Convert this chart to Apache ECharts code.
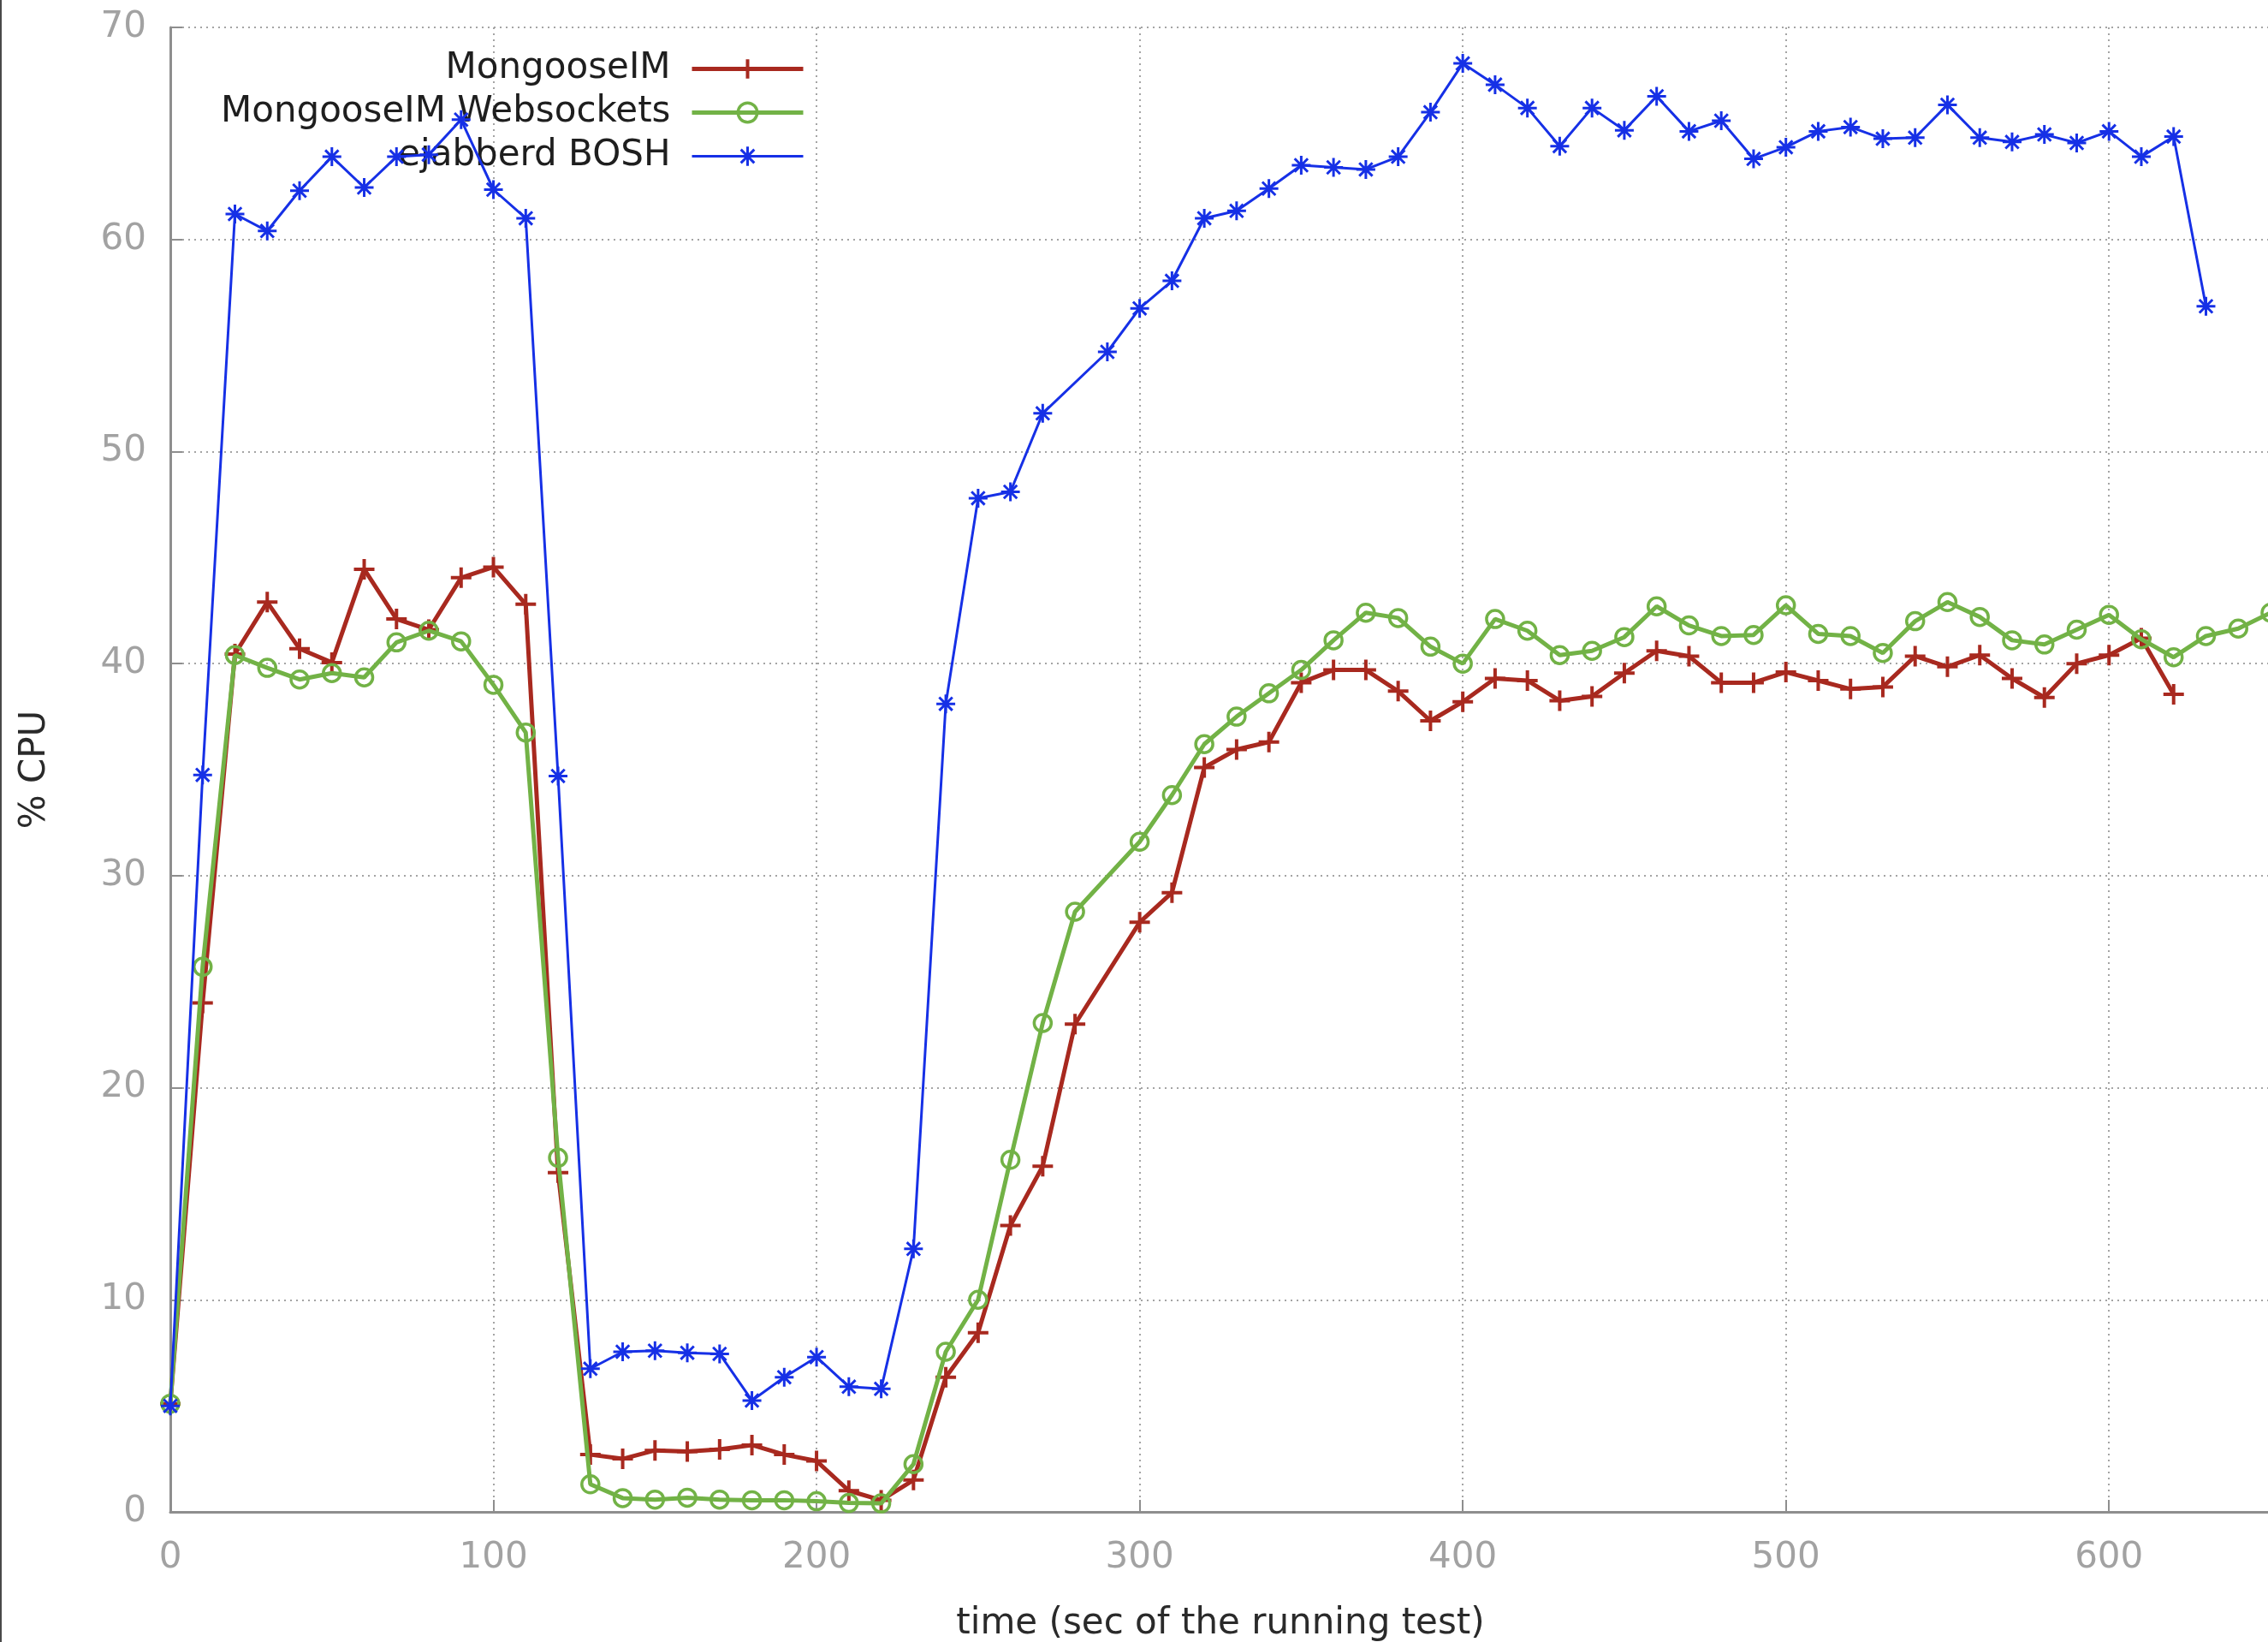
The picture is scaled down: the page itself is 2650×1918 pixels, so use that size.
<!DOCTYPE html>
<html>
<head>
<meta charset="utf-8">
<title>% CPU over time</title>
<script src="https://cdn.jsdelivr.net/npm/echarts@6/dist/echarts.min.js"></script>
<style>
  html, body { margin: 0; padding: 0; background: #ffffff; }
  #chart { width: 2650px; height: 1918px; }
</style>
</head>
<body>
<div id="chart"></div>
<script>
// Sample times (seconds) and CPU usage (%) per server setup.
const timeMongoose = [0, 10, 20, 30, 40, 50, 60, 70, 80, 90, 100, 110, 120, 130, 140, 150, 160, 170, 180, 190, 200, 210, 220, 230, 240, 250, 260, 270, 280, 300, 310, 320, 330, 340, 350, 360, 370, 380, 390, 400, 410, 420, 430, 440, 450, 460, 470, 480, 490, 500, 510, 520, 530, 540, 550, 560, 570, 580, 590, 600, 610, 620];
const cpuMongoose = [5.1, 24.0, 40.45, 42.9, 40.7, 40.05, 44.45, 42.1, 41.6, 44.05, 44.55, 42.8, 16.0, 2.7, 2.5, 2.9, 2.85, 2.95, 3.15, 2.7, 2.4, 1.0, 0.55, 1.5, 6.35, 8.45, 13.5, 16.3, 23.0, 27.8, 29.2, 35.1, 35.95, 36.3, 39.1, 39.7, 39.7, 38.7, 37.3, 38.2, 39.3, 39.2, 38.25, 38.45, 39.55, 40.6, 40.35, 39.1, 39.1, 39.6, 39.2, 38.8, 38.9, 40.35, 39.85, 40.4, 39.3, 38.4, 40.0, 40.4, 41.2, 38.55];

const timeWebsockets = [0, 10, 20, 30, 40, 50, 60, 70, 80, 90, 100, 110, 120, 130, 140, 150, 160, 170, 180, 190, 200, 210, 220, 230, 240, 250, 260, 270, 280, 300, 310, 320, 330, 340, 350, 360, 370, 380, 390, 400, 410, 420, 430, 440, 450, 460, 470, 480, 490, 500, 510, 520, 530, 540, 550, 560, 570, 580, 590, 600, 610, 620, 630, 640, 650];
const cpuWebsockets = [5.1, 25.7, 40.4, 39.8, 39.25, 39.55, 39.35, 41.0, 41.55, 41.05, 39.0, 36.75, 16.7, 1.3, 0.65, 0.58, 0.67, 0.58, 0.55, 0.55, 0.5, 0.42, 0.4, 2.25, 7.55, 10.0, 16.6, 23.05, 28.3, 31.6, 33.8, 36.2, 37.5, 38.6, 39.7, 41.1, 42.4, 42.15, 40.8, 40.0, 42.1, 41.55, 40.4, 40.6, 41.25, 42.7, 41.8, 41.3, 41.35, 42.75, 41.4, 41.3, 40.5, 42.0, 42.9, 42.2, 41.1, 40.9, 41.6, 42.3, 41.15, 40.3, 41.3, 41.65, 42.4];

const timeBosh = [0, 10, 20, 30, 40, 50, 60, 70, 80, 90, 100, 110, 120, 130, 140, 150, 160, 170, 180, 190, 200, 210, 220, 230, 240, 250, 260, 270, 290, 300, 310, 320, 330, 340, 350, 360, 370, 380, 390, 400, 410, 420, 430, 440, 450, 460, 470, 480, 490, 500, 510, 520, 530, 540, 550, 560, 570, 580, 590, 600, 610, 620, 630];
const cpuBosh = [5.0, 34.75, 61.2, 60.4, 62.3, 63.9, 62.45, 63.9, 64.0, 65.65, 62.35, 61.0, 34.7, 6.75, 7.55, 7.6, 7.5, 7.45, 5.25, 6.35, 7.3, 5.9, 5.8, 12.4, 38.1, 47.8, 48.1, 51.8, 54.7, 56.75, 58.05, 61.0, 61.35, 62.4, 63.5, 63.4, 63.3, 63.9, 66.0, 68.3, 67.3, 66.2, 64.4, 66.2, 65.15, 66.75, 65.1, 65.6, 63.8, 64.35, 65.1, 65.3, 64.75, 64.8, 66.35, 64.8, 64.6, 64.95, 64.55, 65.1, 63.9, 64.85, 56.85];

const seriesNames = ['MongooseIM', 'MongooseIM Websockets', 'ejabberd BOSH'];
const xTickInterval = 100;
const yTickInterval = 10;

const FONT = 'DejaVu Sans';
const RED = '#a8291f';
const GREEN = '#72b246';
const BLUE = '#1630e6';
const AXIS_GREY = '#8e8e8e';
const LABEL_GREY = '#a2a2a2';

const RED_W = 5;
const GREEN_W = 5;
const BLUE_W = 3;

function pairs(t, v) {
  return t.map(function (x, i) { return [x, v[i]]; });
}

// point markers: "+" and "*" drawn as stroked paths
const PLUS = 'path://M0,10L20,10M10,0L10,20';
const STAR = 'path://M0,10L20,10M10,0L10,20M3,3L17,17M17,3L3,17';

const chart = echarts.init(document.getElementById('chart'), null, { renderer: 'canvas' });

const gridLine = { show: true, lineStyle: { color: '#a4a4a4', width: 2, type: [2, 5] } };

chart.setOption({
  animation: false,
  backgroundColor: '#ffffff',
  textStyle: { fontFamily: FONT },
  grid: { left: 199, right: -3, top: 32, bottom: 152, containLabel: false, outerBoundsMode: 'none' },
  graphic: [
    { type: 'rect', left: 0, top: 0, shape: { width: 2, height: 1918 }, style: { fill: '#4a4a4a' } }
  ],
  legend: {
    orient: 'vertical',
    right: 1709,
    top: 55,
    align: 'right',
    padding: 0,
    itemGap: 0,
    itemWidth: 130,
    itemHeight: 28,
    data: [
      { name: seriesNames[0], lineStyle: { width: RED_W }, itemStyle: { borderWidth: 4 } },
      { name: seriesNames[1], lineStyle: { width: GREEN_W }, itemStyle: { borderWidth: 3.5 } },
      { name: seriesNames[2], lineStyle: { width: BLUE_W }, itemStyle: { borderWidth: 3 } }
    ],
    textStyle: { fontFamily: FONT, fontSize: 42, color: '#1e1e1e', lineHeight: 51, padding: [0, 20, 0, 0] }
  },
  xAxis: {
    type: 'value',
    min: 0,
    max: 650,
    interval: xTickInterval,
    name: 'time (sec of the running test)',
    nameLocation: 'middle',
    nameGap: 110,
    nameTextStyle: { fontFamily: FONT, fontSize: 42, color: '#2a2a2a' },
    axisLine: { show: true, onZero: false, lineStyle: { color: AXIS_GREY, width: 3 } },
    axisTick: { show: true, inside: true, length: 14, lineStyle: { color: AXIS_GREY, width: 2 } },
    axisLabel: { show: true, showMaxLabel: false, margin: 33, fontFamily: FONT, fontSize: 42, color: LABEL_GREY },
    splitLine: gridLine
  },
  yAxis: {
    type: 'value',
    min: 0,
    max: 70,
    interval: yTickInterval,
    name: '% CPU',
    nameLocation: 'middle',
    nameGap: 137,
    nameTextStyle: { fontFamily: FONT, fontSize: 42, color: '#2a2a2a' },
    axisLine: { show: true, lineStyle: { color: AXIS_GREY, width: 3 } },
    axisTick: { show: true, inside: true, length: 14, lineStyle: { color: AXIS_GREY, width: 2 } },
    axisLabel: { show: true, margin: 28, fontFamily: FONT, fontSize: 42, color: LABEL_GREY },
    splitLine: gridLine
  },
  series: [
    {
      name: seriesNames[0],
      type: 'line',
      z: 2,
      data: pairs(timeMongoose, cpuMongoose),
      symbol: PLUS,
      symbolSize: 24,
      showAllSymbol: true,
      lineStyle: { color: RED, width: RED_W },
      itemStyle: { color: RED, borderColor: RED, borderWidth: 4 }
    },
    {
      name: seriesNames[1],
      type: 'line',
      z: 3,
      data: pairs(timeWebsockets, cpuWebsockets),
      symbol: 'circle',
      symbolSize: 20,
      showAllSymbol: true,
      lineStyle: { color: GREEN, width: GREEN_W },
      itemStyle: { color: 'rgba(0,0,0,0)', borderColor: GREEN, borderWidth: 3.5 }
    },
    {
      name: seriesNames[2],
      type: 'line',
      z: 4,
      data: pairs(timeBosh, cpuBosh),
      symbol: STAR,
      symbolSize: 22,
      showAllSymbol: true,
      lineStyle: { color: BLUE, width: BLUE_W },
      itemStyle: { color: BLUE, borderColor: BLUE, borderWidth: 3 }
    }
  ]
});
</script>
</body>
</html>
